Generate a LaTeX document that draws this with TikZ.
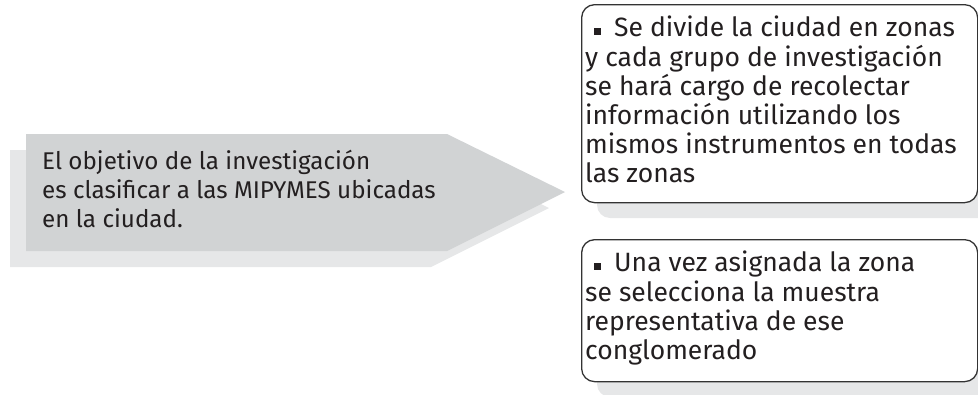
\documentclass[tikz,border=0pt]{standalone}
\usepackage{fontspec}
\setmainfont{Fira Sans}
\usetikzlibrary{positioning,calc}
\definecolor{sombra}{HTML}{E6E7E8}
\definecolor{flechagris}{HTML}{D1D3D4}
\definecolor{borde}{HTML}{333333}
\definecolor{tinta}{HTML}{231F20}
\tikzset{
	caja/.style={draw=borde,line width=1.3pt,fill=white,rounded corners=13pt,inner sep=0pt,anchor=north west},
	sombracaja/.style={fill=sombra,rounded corners=13pt},
	textocaja/.style={anchor=north west,inner sep=0pt,align=left,text=tinta,font=\fontsize{26.5pt}{29.2pt}\selectfont},
	textoflecha/.style={anchor=north west,inner sep=0pt,align=left,text=tinta,font=\fontsize{24.2pt}{29pt}\selectfont}
}
\newcommand\vineta{\hspace*{9pt}\rule[1.5pt]{7pt}{7pt}\hspace{13pt}}

\begin{document}
\begin{tikzpicture}[x=1pt,y=1pt]
	\useasboundingbox (0,0) rectangle (978,-394);
	\clip (0,0) rectangle (978,-394);
	
	\def\s{16}        % shadow offset
	% ARROW
	\coordinate (FA) at (26,-134);    % top left
	\coordinate (FB) at (447,-134);   % top right
	\coordinate (FP) at (565,-192);   % tip
	\coordinate (FC) at (447,-251);   % bottom right
	\coordinate (FD) at (26,-251);    % bottom left
	\fill[sombra] ([shift={(-\s,-\s)}]FA) -- ([shift={(-\s,-\s)}]FB) -- ([shift={(-\s,-\s)}]FP)
	-- ([shift={(-\s,-\s)}]FC) -- ([shift={(-\s,-\s)}]FD) -- cycle;
	\fill[flechagris] (FA) -- (FB) -- (FP) -- (FC) -- (FD) -- cycle;
	\node[textoflecha] (objetivo) at (42,-150)
	{El objetivo de la investigación\\es clasificar a las MIPYMES ubicadas\\en la ciudad.};
	
	% BOXES
	\fill[sombracaja] (581+\s,-4-\s) rectangle (977+\s,-202-\s);
	\fill[sombracaja] (581+\s,-239-\s) rectangle (977+\s,-381-\s);
	\node[caja,minimum width=396,minimum height=198] (zonas) at (581,-4) {};
	\node[caja,minimum width=396,minimum height=142] (muestra) at (581,-239) {};
	
	% TEXTS
	\node[textocaja] (tzonas) at ([shift={(4,-12)}]zonas.north west)
	{\vineta Se divide la ciudad en zonas\\y cada grupo de investigación\\se hará cargo de recolectar\\información utilizando los\\mismos instrumentos en todas\\las zonas};
	\node[textocaja] (tmuestra) at ([shift={(4,-12)}]muestra.north west)
	{\vineta Una vez asignada la zona\\se selecciona la muestra\\representativa de ese\\conglomerado};
	
\end{tikzpicture}
\end{document}
